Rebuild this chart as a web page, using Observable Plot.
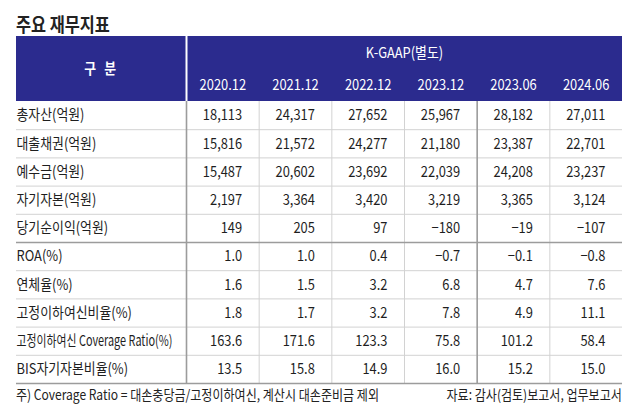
<!DOCTYPE html>
<html><head><meta charset="utf-8">
<script src="https://cdn.jsdelivr.net/npm/d3@7"></script>
<script src="https://cdn.jsdelivr.net/npm/@observablehq/plot@0.6"></script>
<style>
body{margin:0;background:#fff;width:639px;height:416px;overflow:hidden;position:relative;font-family:"Noto Sans CJK KR",sans-serif;color:#222}
.t{position:absolute;white-space:nowrap;line-height:1}
#title{left:16px;top:14px;font-size:19px;font-weight:700;transform:scaleX(.86);transform-origin:left center}
#note{left:16px;top:387px;font-size:14px;transform:scaleX(.86);transform-origin:left center}
#src{right:17px;top:387px;font-size:14px;transform:scaleX(.86);transform-origin:right center}
#chart{position:absolute;left:0;top:36px}
</style></head><body>
<div id="title" class="t"></div>
<div id="chart"></div>
<div id="note" class="t"></div>
<div id="src" class="t"></div>
<script>
// ---- texts ----
const titleText = "주요 재무지표";
const noteText = "주) Coverage Ratio = 대손충당금/고정이하여신, 계산시 대손준비금 제외";
const sourceText = "자료: 감사(검토)보고서, 업무보고서";
const headerCorner = "구 분";
const headerGroup = "K-GAAP(별도)";

// ---- categories ----
const periods = ["2020.12", "2021.12", "2022.12", "2023.12", "2023.06", "2024.06"];
const rowLabels = [
  "총자산(억원)", "대출채권(억원)", "예수금(억원)", "자기자본(억원)", "당기순이익(억원)",
  "ROA(%)", "연체율(%)", "고정이하여신비율(%)", "고정이하여신 Coverage Ratio(%)", "BIS자기자본비율(%)"
];

// ---- values (per row, in period order) ----
const totalAssets = [18113, 24317, 27652, 25967, 28182, 27011];
const loans       = [15816, 21572, 24277, 21180, 23387, 22701];
const deposits    = [15487, 20602, 23692, 22039, 24208, 23237];
const equity      = [2197, 3364, 3420, 3219, 3365, 3124];
const netIncome   = [149, 205, 97, -180, -19, -107];
const roa         = [1.0, 1.0, 0.4, -0.7, -0.1, -0.8];
const delinquency = [1.6, 1.5, 3.2, 6.8, 4.7, 7.6];
const substandard = [1.8, 1.7, 3.2, 7.8, 4.9, 11.1];
const coverage    = [163.6, 171.6, 123.3, 75.8, 101.2, 58.4];
const bisRatio    = [13.5, 15.8, 14.9, 16.0, 15.2, 15.0];

document.getElementById("title").textContent = titleText;
document.getElementById("note").textContent = noteText;
document.getElementById("src").textContent = sourceText;

const rowValues = [totalAssets, loans, deposits, equity, netIncome, roa, delinquency, substandard, coverage, bisRatio];
const amountRows = 5; // first five rows are amounts (억원), rest are ratios (%)
const fmtAmount = d3.format(",");
const fmtRatio = d3.format(".1f");
const cells = rowLabels.flatMap((label, r) =>
  rowValues[r].map((v, c) => ({r, c, text: (r < amountRows ? fmtAmount : fmtRatio)(v)}))
);

// ---- layout (in column / row units) ----
const colPx = 436 / periods.length;
const labelSpan = 170 / colPx;
const rowPx = 28.2;
const headSpan = 65 / rowPx;
const nRows = rowLabels.length;
const nCols = periods.length;
const halfYearStart = periods.findIndex(p => p.endsWith(".06"));

const colIdx = d3.range(nCols);
const rowIdx = d3.range(1, nRows + 1);
const darkCols = [0, halfYearStart];
const lightCols = colIdx.filter(c => !darkCols.includes(c));
const darkRows = [amountRows, nRows];
const lightRows = rowIdx.filter(r => !darkRows.includes(r));

const navy = "#2b2b8e";
const ink = "#1e1e1e";
const light = "#d2d2d2";
const dark = "#9c9c9c";

const svg = Plot.plot({
  width: 639,
  height: 350,
  margin: 0,
  x: {domain: [-labelSpan, nCols], range: [16, 622], axis: null},
  y: {domain: [-headSpan, nRows], range: [0, 347], axis: null},
  style: {fontFamily: "'Noto Sans CJK KR', sans-serif", fontSize: "15px", overflow: "visible", background: "#fff"},
  marks: [
    Plot.rect([{}], {x1: () => -labelSpan, x2: () => nCols, y1: () => -headSpan, y2: () => 0, fill: navy}),
    Plot.ruleX([0], {y1: -headSpan, y2: 0, stroke: "white", strokeWidth: 2}),
    Plot.ruleY(lightRows, {x1: -labelSpan, x2: nCols, stroke: light, strokeWidth: 1}),
    Plot.ruleX(lightCols, {y1: 0, y2: nRows, stroke: light, strokeWidth: 1}),
    Plot.ruleY(darkRows, {x1: -labelSpan, x2: nCols, stroke: dark, strokeWidth: 1.6}),
    Plot.ruleX(darkCols, {y1: 0, y2: nRows, stroke: dark, strokeWidth: 1.6}),
    Plot.text([headerCorner], {x: -labelSpan / 2, y: -headSpan / 2, fill: "white", fontWeight: "bold", fontSize: 15}),
    Plot.text([headerGroup], {x: nCols / 2, y: -headSpan + 17 / rowPx, fill: "white", fontSize: 15}),
    Plot.text(periods, {x: (d, i) => i + 0.5, y: -headSpan + 49 / rowPx, fill: "white", fontSize: 15}),
    Plot.text(rowLabels, {x: -labelSpan, y: (d, i) => i + 0.5, textAnchor: "start", fill: ink, fontSize: 15}),
    Plot.text(cells, {x: d => d.c + 1, y: d => d.r + 0.5, text: "text", textAnchor: "end", dx: -17, fill: ink, fontSize: 15})
  ]
});
document.getElementById("chart").append(svg);

// condensed look: squeeze text horizontally; long labels squeezed to fit their column
const maxLabel = 156;
svg.querySelectorAll("text").forEach(t => {
  if (t.textContent === headerCorner) t.style.letterSpacing = "3px";
  const len = t.getComputedTextLength();
  const k = Math.min(0.86, maxLabel / len);
  const x = t.getAttribute("x");
  let tr = t.getAttribute("transform") || "";
  if (x != null && !String(x).includes("em")) { tr += ` translate(${x},0)`; t.removeAttribute("x"); }
  t.setAttribute("transform", `${tr} scale(${k},1)`);
});
</script>
</body></html>
